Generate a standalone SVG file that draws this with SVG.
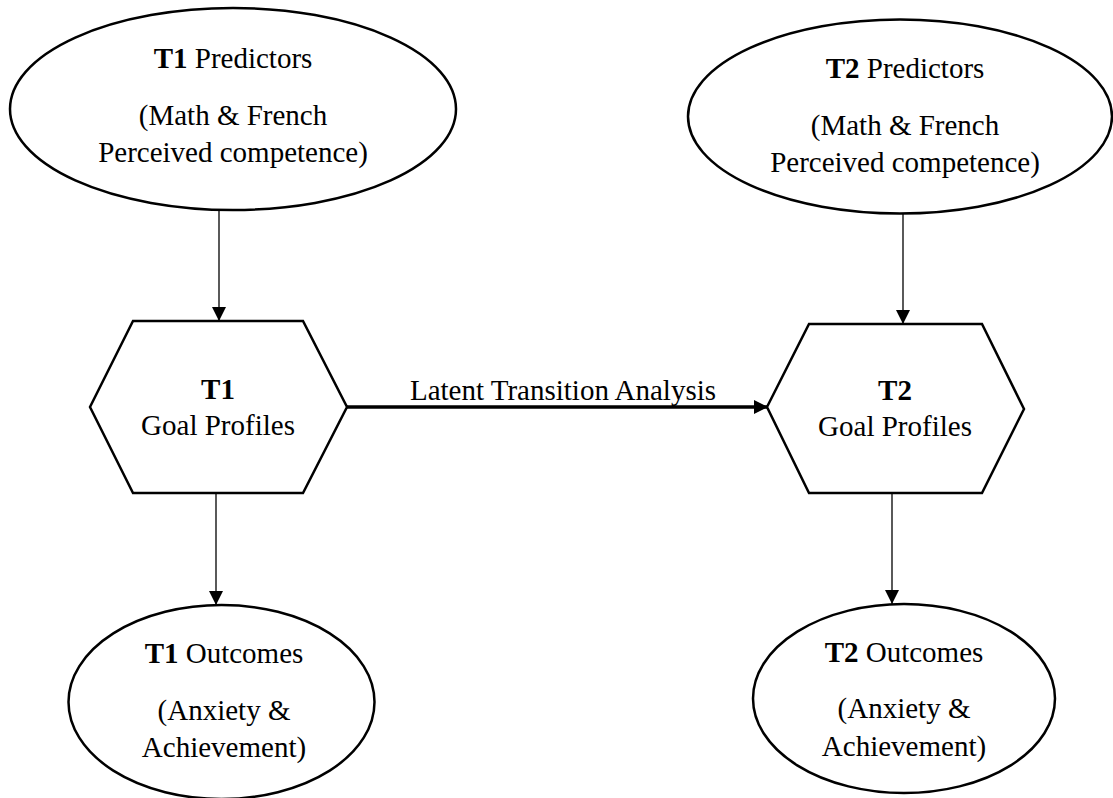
<svg xmlns="http://www.w3.org/2000/svg" width="1113" height="798" viewBox="0 0 1113 798">
<style>
text{font-family:"Liberation Serif","Times New Roman",serif;font-size:29px;fill:#000;text-anchor:middle}
.b{font-weight:bold}
.shape{fill:#fff;stroke:#000;stroke-width:2.5}
.thin{stroke:#000;stroke-width:1.3;fill:none}
.thick{stroke:#000;stroke-width:3.5;fill:none}
</style>
<defs>
<marker id="ah" viewBox="0 0 10 10" refX="10" refY="5" markerWidth="14" markerHeight="14" markerUnits="userSpaceOnUse" orient="auto"><path d="M0,0 L10,5 L0,10 Z" fill="#000"/></marker>
<marker id="ahk" viewBox="0 0 10 10" refX="10" refY="5" markerWidth="16" markerHeight="14" markerUnits="userSpaceOnUse" orient="auto"><path d="M0,0 L10,5 L0,10 Z" fill="#000"/></marker>
</defs>
<rect width="1113" height="798" fill="#fff"/>
<g id="connectors">
<line class="thin" x1="219" y1="210" x2="219" y2="321" marker-end="url(#ah)"/>
<line class="thin" x1="903" y1="213" x2="903" y2="324" marker-end="url(#ah)"/>
<line class="thin" x1="216" y1="493" x2="216" y2="605" marker-end="url(#ah)"/>
<line class="thin" x1="892" y1="493" x2="892" y2="604" marker-end="url(#ah)"/>
<line class="thick" x1="347" y1="407" x2="768" y2="407" marker-end="url(#ahk)"/>
<text x="563" y="400">Latent Transition Analysis</text>
</g>
<g id="t1-predictors">
<ellipse class="shape" cx="233" cy="109" rx="223" ry="101"/>
<text x="233" y="68"><tspan class="b">T1</tspan> Predictors</text>
<text x="233" y="125">(Math &amp; French</text>
<text x="233" y="162">Perceived competence)</text>
</g>
<g id="t2-predictors">
<ellipse class="shape" cx="900" cy="116.5" rx="212" ry="97"/>
<text x="905" y="78"><tspan class="b">T2</tspan> Predictors</text>
<text x="905" y="135">(Math &amp; French</text>
<text x="905" y="172">Perceived competence)</text>
</g>
<g id="t1-goal-profiles">
<polygon class="shape" points="90,407 133,321 303,321 347,407 303,493 133,493"/>
<text x="218" y="399" class="b">T1</text>
<text x="218" y="435">Goal Profiles</text>
</g>
<g id="t2-goal-profiles">
<polygon class="shape" points="767,407 809,324 982,324 1024,409 982,493 809,493"/>
<text x="895" y="400" class="b">T2</text>
<text x="895" y="436">Goal Profiles</text>
</g>
<g id="t1-outcomes">
<ellipse class="shape" cx="221.5" cy="702" rx="153" ry="97"/>
<text x="224" y="663"><tspan class="b">T1</tspan> Outcomes</text>
<text x="224" y="720">(Anxiety &amp;</text>
<text x="224" y="757">Achievement)</text>
</g>
<g id="t2-outcomes">
<ellipse class="shape" cx="904" cy="698.5" rx="151" ry="94.5"/>
<text x="904" y="662"><tspan class="b">T2</tspan> Outcomes</text>
<text x="904" y="718">(Anxiety &amp;</text>
<text x="904" y="756">Achievement)</text>
</g>
</svg>
